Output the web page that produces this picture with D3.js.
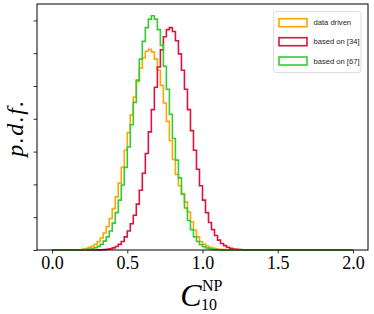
<!DOCTYPE html>
<html><head><meta charset="utf-8">
<script src="https://cdn.jsdelivr.net/npm/d3@7"></script>
<style>body{margin:0;background:#fff}svg{display:block}</style>
</head><body>
<script>
// histogram bins: width 0.02, starting at 0.20 (outside: zero), full range 0..2
const binStart = 0.2;
const binWidth = 0.02;
const histRange = [0, 2];
const seriesNames = ["data driven", "based on [34]", "based on [67]"];
const dataDriven = [0.015,0.024,0.038,0.058,0.087,0.128,0.184,0.259,0.356,0.479,
  0.63,0.81,1.02,1.26,1.52,1.79,2.06,2.33,2.57,2.77,
  2.93,3.03,3.06,3.02,2.91,2.74,2.51,2.24,1.96,1.67,
  1.38,1.15,0.98,0.86,0.73,0.58,0.43,0.30,0.20,0.13,
  0.09,0.06,0.04,0.028,0.018,0.012,0.008,0.005,0.003,0.002,
  0.001,0,0,0,0,0,0,0,0,0];
const basedOn34 = [0,0,0,0,0.001,0.002,0.003,0.006,0.011,0.019,
  0.032,0.053,0.085,0.13,0.20,0.29,0.40,0.53,0.70,0.91,
  1.17,1.47,1.80,2.14,2.48,2.79,3.05,3.25,3.36,3.39,
  3.33,3.19,2.99,2.74,2.45,2.14,1.82,1.52,1.23,0.98,
  0.76,0.57,0.42,0.31,0.22,0.15,0.10,0.066,0.042,0.026,
  0.016,0.010,0.006,0.003,0.002,0.001,0,0,0,0];
const basedOn67 = [0.004,0.007,0.013,0.021,0.035,0.056,0.088,0.135,0.20,0.29,
  0.41,0.57,0.76,0.99,1.26,1.57,1.91,2.25,2.59,2.91,
  3.18,3.39,3.52,3.57,3.52,3.36,3.12,2.80,2.45,2.07,
  1.70,1.37,1.10,0.85,0.64,0.45,0.31,0.20,0.13,0.08,
  0.05,0.03,0.018,0.01,0.006,0.003,0.002,0.001,0,0,
  0,0,0,0,0,0,0,0,0,0];
const colors = ["#FFA500", "#DC143C", "#32CD32"];
const xTicks = [0.0, 0.5, 1.0, 1.5, 2.0];
const yTicks = [0, 0.5, 1.0, 1.5, 2.0, 2.5, 3.0, 3.5];

const W = 374, H = 314;
const svg = d3.select("body").append("svg").attr("width", W).attr("height", H);
const L = 37, R = 368, T = 4, B = 250;
const x = d3.scaleLinear().domain([-0.1, 2.1]).range([L, R]);
const y = d3.scaleLinear().domain([0, 3.75]).range([B, T]);

const series = [dataDriven, basedOn34, basedOn67];

series.forEach((vals, i) => {
  const pts = [[histRange[0], 0], [binStart, 0]];
  vals.forEach((v, k) => {
    const x0 = binStart + k*binWidth, x1 = x0 + binWidth;
    pts.push([x0, v]); pts.push([x1, v]);
  });
  const end = binStart + vals.length*binWidth;
  pts.push([end, 0]); pts.push([histRange[1], 0]);
  svg.append("path")
    .attr("d", d3.line().x(d => x(d[0])).y(d => y(d[1]))(pts))
    .attr("fill", "none").attr("stroke", colors[i]).attr("stroke-width", 1.6)
    .attr("stroke-linejoin", "miter");
});

// frame
svg.append("rect").attr("x", L).attr("y", T).attr("width", R-L).attr("height", B-T)
  .attr("fill","none").attr("stroke","#000").attr("stroke-width",1);

// x axis
const xa = svg.append("g").attr("transform", `translate(0,${B})`)
  .call(d3.axisBottom(x).tickValues(xTicks).tickFormat(d3.format(".1f")).tickSize(3.5).tickPadding(3));
xa.select(".domain").remove();
xa.selectAll("text").attr("font-family","'Liberation Serif', serif").attr("font-size", 18).attr("fill","#000");
xa.selectAll("line").attr("stroke","#000").attr("stroke-width",0.8);

const ya = svg.append("g").attr("transform", `translate(${L},0)`)
  .call(d3.axisLeft(y).tickValues(yTicks).tickFormat("").tickSize(3.5));
ya.select(".domain").remove();
ya.selectAll("line").attr("stroke","#000").attr("stroke-width",0.8);

// axis labels
svg.append("text").attr("transform","translate(23,128) rotate(-90)")
  .attr("text-anchor","middle").attr("font-family","'Liberation Serif', serif")
  .attr("font-style","italic").attr("font-size",24).attr("letter-spacing",1.5).text("p.d.f.");

const xl = svg.append("g").attr("font-family","'Liberation Serif', serif");
xl.append("text").attr("x", 191).attr("y", 306).attr("text-anchor","middle")
  .attr("font-style","italic").attr("font-size",32).text("C");
xl.append("text").attr("x", 202).attr("y", 291).attr("font-size",16).text("NP");
xl.append("text").attr("x", 201).attr("y", 310).attr("font-size",16).text("10");

// legend
const lg = svg.append("g");
lg.append("rect").attr("x",273.5).attr("y",11.5).attr("width",87.5).attr("height",61)
  .attr("rx",2.5).attr("fill","#fff").attr("fill-opacity",0.8).attr("stroke","#d6d6d6").attr("stroke-width",0.8);
const ly = [22.7, 41.7, 61];
seriesNames.forEach((n, i) => {
  lg.append("rect").attr("x",279).attr("y",ly[i]-4).attr("width",28).attr("height",8)
    .attr("fill","none").attr("stroke",colors[i]).attr("stroke-width",1.6);
  lg.append("text").attr("x",313.5).attr("y",ly[i]+2.6).attr("font-family","'Liberation Sans', Arial, sans-serif")
    .attr("font-size",7.6).attr("fill","#222").text(n);
});
</script>
</body></html>
